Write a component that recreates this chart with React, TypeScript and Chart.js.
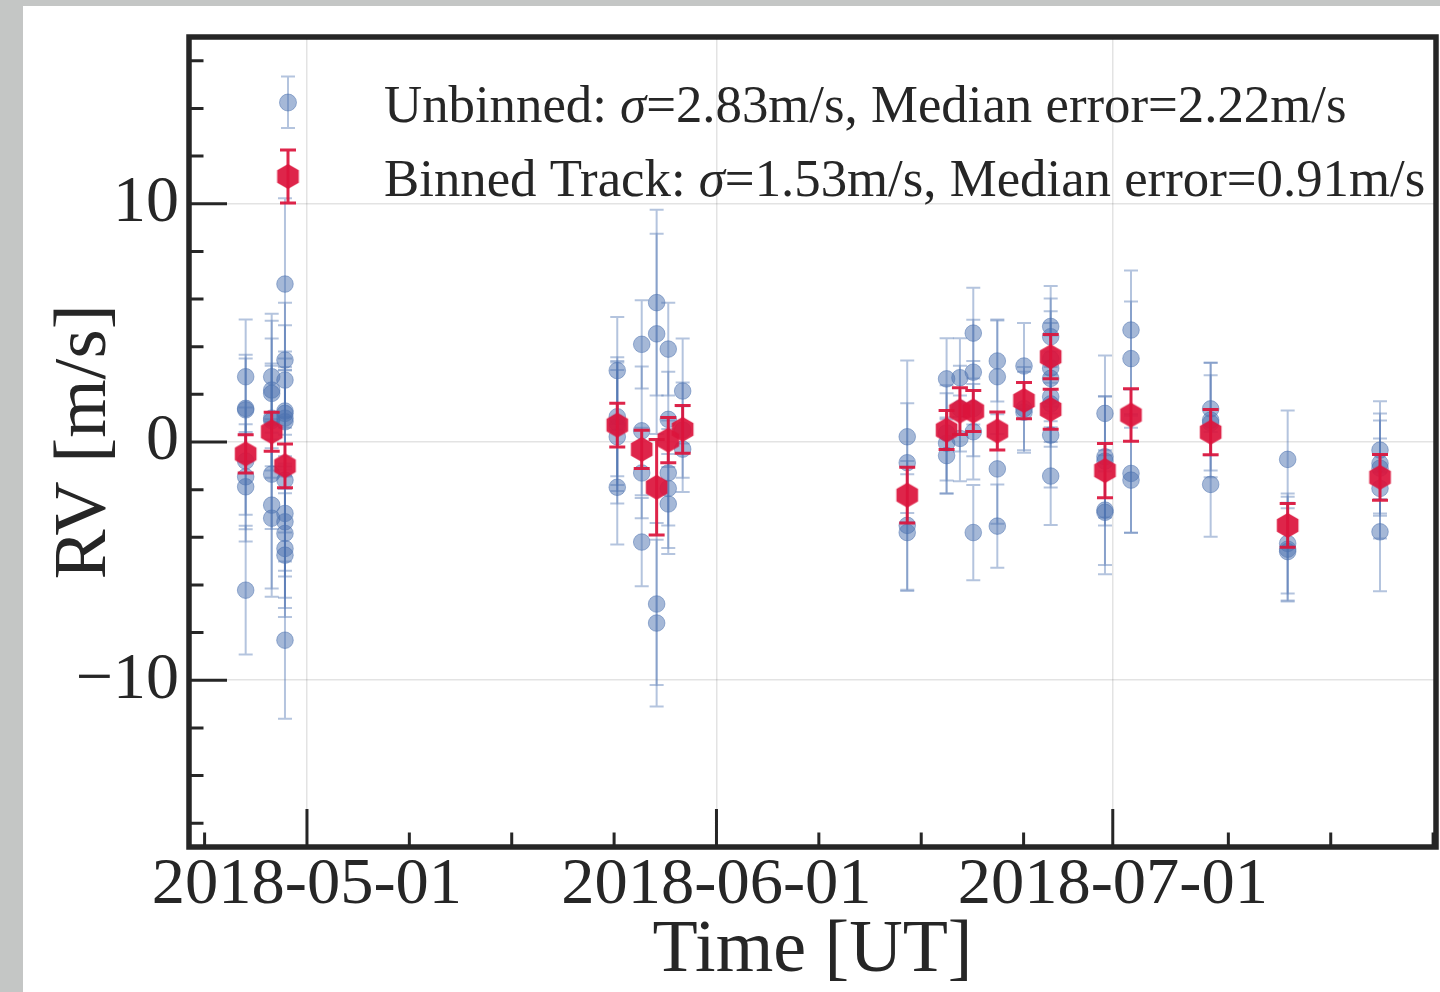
import React, { useEffect, useRef } from "react";
import { Chart, registerables } from "chart.js";

Chart.register(...registerables);

const DAY_MS = 86400000;
const toDay = (s: string): number => Date.parse(s + ":00Z") / DAY_MS;

// ---- axes ----
const xRange = ["2018-04-22T01:40", "2018-07-25T11:15"];
const xMajorTicks = ["2018-05-01T00:00", "2018-06-01T00:00", "2018-07-01T00:00"];
const xMinorTicks = [
  "2018-04-23T06:00", "2018-05-08T18:00", "2018-05-16T12:00", "2018-05-24T06:00",
  "2018-06-08T18:00", "2018-06-16T12:00", "2018-06-24T06:00",
  "2018-07-09T18:00", "2018-07-17T12:00", "2018-07-25T06:00",
];
const yRange = [-17, 17];
const yMajorTicks = [-10, 0, 10];
const yMinorTicks = [-16, -14, -12, -8, -6, -4, -2, 2, 4, 6, 8, 12, 14, 16];

const xTitle = "Time [UT]";
const yTitle = "RV [m/s]";
const legendLabels = [
  "Unbinned: σ=2.83m/s, Median error=2.22m/s",
  "Binned Track: σ=1.53m/s, Median error=0.91m/s",
];

// ---- unbinned RVs, grouped by night ----
const nightDates = [
  "2018-04-26T08:38", "2018-04-28T07:55", "2018-04-29T08:02",
  "2018-05-24T11:45", "2018-05-26T08:10", "2018-05-27T11:17", "2018-05-28T08:24", "2018-05-29T10:34",
  "2018-06-15T10:34", "2018-06-18T10:05", "2018-06-19T10:19", "2018-06-20T10:34",
  "2018-06-22T06:14", "2018-06-24T06:43", "2018-06-26T07:12", "2018-06-30T09:50",
  "2018-07-02T09:07", "2018-07-08T09:50", "2018-07-14T05:46", "2018-07-21T05:31",
];
const unbinnedRV = [
  [2.74, 1.41, 1.35, -0.8, -1.46, -1.88, -6.22],
  [2.74, 2.18, 2.04, 1.0, 0.9, -1.35, -2.65, -3.2],
  [6.63, 3.44, 2.6, 1.3, 1.2, 1.0, 0.85, -1.6, -3.0, -3.35, -3.84, -4.47, -4.75, -8.32],
  [3.0, 1.06, 0.8, 0.64, 0.22, -1.9],
  [4.1, 0.47, -1.3, -4.2],
  [5.85, 4.54, -6.8, -7.6],
  [3.9, 0.95, -1.3, -1.95, -2.6],
  [2.14, 0.5, -0.3],
  [0.22, -0.87, -3.5, -3.8],
  [2.65, 0.38, -0.05, -0.57],
  [2.7, 1.4, 0.15],
  [4.57, 2.93, 1.4, 0.43, -3.8],
  [3.4, 2.74, -1.13, -3.53],
  [3.19, 1.4, 1.25],
  [4.85, 4.42, 3.49, 3.1, 2.67, 1.9, 1.6, 0.29, -1.43],
  [1.2, -0.62, -0.8, -2.86, -2.95],
  [4.7, 3.5, -1.32, -1.6],
  [1.39, 0.92, 0.8, -1.78],
  [-0.73, -4.26, -4.5, -4.6],
  [-0.34, -0.9, -1.1, -1.95, -3.77],
];
const unbinnedErr = [
  [2.4, 2.25, 2.15, 2.25, 2.2, 2.3, 2.7],
  [2.35, 3.2, 2.3, 2.2, 2.4, 2.3, 3.5, 3.3],
  [3.6, 2.4, 2.3, 2.2, 2.6, 2.0, 2.3, 2.2, 2.4, 2.3, 2.7, 2.5, 2.6, 3.3],
  [2.25, 2.5, 2.6, 2.7, 2.8, 2.4],
  [1.85, 2.7, 1.9, 1.85],
  [3.9, 4.2, 3.4, 3.5],
  [1.95, 2.0, 2.2, 2.5, 2.1],
  [2.2, 2.0, 1.8],
  [3.2, 2.5, 2.7, 2.45],
  [1.7, 2.0, 2.1, 1.6],
  [1.65, 1.8, 1.8],
  [1.9, 2.2, 2.0, 2.0, 2.0],
  [1.7, 2.4, 2.3, 1.75],
  [1.8, 1.75, 1.7],
  [1.7, 1.6, 2.0, 1.9, 1.8, 1.9, 1.8, 2.2, 2.05],
  [2.43, 2.55, 2.7, 2.3, 2.6],
  [2.5, 2.4, 2.5, 2.2],
  [1.95, 2.4, 2.0, 2.2],
  [2.05, 2.1, 2.2, 2.05],
  [2.05, 2.1, 2.0, 2.1, 2.5],
];

// ---- binned track RVs ----
const binnedDates = [
  "2018-04-26T08:38", "2018-04-28T07:55", "2018-04-29T08:02",
  "2018-05-24T11:45", "2018-05-26T08:10", "2018-05-27T11:17", "2018-05-28T08:24", "2018-05-29T10:34",
  "2018-06-15T10:34", "2018-06-18T10:05", "2018-06-19T10:19", "2018-06-20T10:34",
  "2018-06-22T06:14", "2018-06-24T06:43", "2018-06-26T07:12", "2018-06-26T07:12",
  "2018-06-30T09:50", "2018-07-02T09:07", "2018-07-08T09:50", "2018-07-14T05:46", "2018-07-21T05:31",
];
const binnedRV = [
  -0.5, 0.43, -1.0,
  0.71, -0.31, -1.9, 0.08, 0.53,
  -2.23, 0.5, 1.3, 1.3,
  0.46, 1.74, 3.58, 1.37,
  -1.2, 1.13, 0.41, -3.5, -1.48,
];
const binnedErr = [
  0.8, 0.82, 0.92,
  0.92, 0.8, 2.0, 0.95, 1.0,
  1.17, 0.82, 0.98, 0.86,
  0.8, 0.76, 0.93, 0.84,
  1.14, 1.1, 0.95, 0.92, 0.96,
];

// ---- styles ----
const INK = "#262626";
const SERIF = "'Liberation Serif', 'Times New Roman', serif";
const BLUE = "rgba(76,114,176,0.5)";
const BLUE_BAR = "rgba(76,114,176,0.42)";
const RED = "rgba(220,20,60,0.93)";

function makeHexagon(r: number, color: string): HTMLCanvasElement {
  const size = Math.ceil(r * 2) + 4;
  const c = document.createElement("canvas");
  c.width = size;
  c.height = size;
  const g = c.getContext("2d")!;
  g.fillStyle = color;
  g.beginPath();
  for (let k = 0; k < 6; k++) {
    const a = -Math.PI / 2 + (k * Math.PI) / 3;
    const px = size / 2 + r * Math.cos(a);
    const py = size / 2 + r * Math.sin(a);
    if (k === 0) g.moveTo(px, py);
    else g.lineTo(px, py);
  }
  g.closePath();
  g.fill();
  return c;
}

function drawErrorBar(ctx: CanvasRenderingContext2D, x: number, yTop: number, yBot: number, cap: number) {
  ctx.beginPath();
  ctx.moveTo(x, yTop);
  ctx.lineTo(x, yBot);
  ctx.moveTo(x - cap, yTop);
  ctx.lineTo(x + cap, yTop);
  ctx.moveTo(x - cap, yBot);
  ctx.lineTo(x + cap, yBot);
  ctx.stroke();
}

const errorBarPlugin = {
  id: "errorBars",
  beforeDatasetDraw(chart: any, args: any) {
    const ds = chart.data.datasets[args.index];
    const st = ds.errStyle;
    if (!st) return;
    const ctx: CanvasRenderingContext2D = chart.ctx;
    const ys = chart.scales.y;
    ctx.save();
    ctx.strokeStyle = st.color;
    ctx.lineWidth = st.width;
    args.meta.data.forEach((pt: any, j: number) => {
      const d = ds.data[j];
      drawErrorBar(ctx, pt.x, ys.getPixelForValue(d.y + d.err), ys.getPixelForValue(d.y - d.err), st.cap);
    });
    ctx.restore();
  },
};

const frameTicksPlugin = {
  id: "frameTicks",
  afterDatasetsDraw(chart: any) {
    const { ctx, chartArea: a, scales } = chart;
    ctx.save();
    ctx.strokeStyle = INK;
    ctx.lineWidth = 3;
    ctx.beginPath();
    yMajorTicks.forEach((v) => {
      const p = scales.y.getPixelForValue(v);
      ctx.moveTo(a.left, p);
      ctx.lineTo(a.left + 38, p);
    });
    yMinorTicks.forEach((v) => {
      const p = scales.y.getPixelForValue(v);
      ctx.moveTo(a.left, p);
      ctx.lineTo(a.left + 14.5, p);
    });
    xMajorTicks.forEach((d) => {
      const p = scales.x.getPixelForValue(toDay(d));
      ctx.moveTo(p, a.bottom);
      ctx.lineTo(p, a.bottom - 38);
    });
    xMinorTicks.forEach((d) => {
      const p = scales.x.getPixelForValue(toDay(d));
      ctx.moveTo(p, a.bottom);
      ctx.lineTo(p, a.bottom - 14.5);
    });
    ctx.stroke();
    ctx.lineWidth = 5.5;
    ctx.strokeRect(a.left, a.top, a.right - a.left, a.bottom - a.top);
    ctx.restore();
  },
};

function makeLegendPlugin(hex: HTMLCanvasElement) {
  return {
    id: "innerLegend",
    afterDraw(chart: any) {
      const ctx: CanvasRenderingContext2D = chart.ctx;
      const a = chart.chartArea;
      const hx = a.left + 99;
      const textX = a.left + 195;
      const rows = [a.top + 85, a.top + 159];
      ctx.save();
      // unbinned handle
      ctx.strokeStyle = BLUE_BAR;
      ctx.lineWidth = 2;
      drawErrorBar(ctx, hx, rows[0] - 45.5, rows[0] + 6, 7);
      ctx.fillStyle = BLUE;
      ctx.strokeStyle = BLUE;
      ctx.lineWidth = 1;
      ctx.beginPath();
      ctx.arc(hx, rows[0] - 19.5, 8.5, 0, Math.PI * 2);
      ctx.fill();
      ctx.stroke();
      // binned handle
      ctx.strokeStyle = RED;
      ctx.lineWidth = 3;
      drawErrorBar(ctx, hx, rows[1] - 46, rows[1] + 7, 8);
      ctx.drawImage(hex, hx - hex.width / 2, rows[1] - 19.5 - hex.height / 2);
      // texts
      ctx.fillStyle = INK;
      ctx.textBaseline = "alphabetic";
      ctx.textAlign = "left";
      legendLabels.forEach((label, i) => {
        let x = textX;
        const parts = label.split("σ");
        parts.forEach((part, k) => {
          if (k > 0) {
            ctx.font = `italic 52.8px ${SERIF}`;
            ctx.fillText("σ", x, rows[i]);
            x += ctx.measureText("σ").width;
          }
          ctx.font = `52.8px ${SERIF}`;
          ctx.fillText(part, x, rows[i]);
          x += ctx.measureText(part).width;
        });
      });
      ctx.restore();
    },
  };
}

export default function App() {
  const ref = useRef<HTMLCanvasElement>(null);

  useEffect(() => {
    const hex = makeHexagon(12.5, RED);
    const unbinnedPoints = nightDates.flatMap((d, i) =>
      unbinnedRV[i].map((v, j) => ({ x: toDay(d), y: v, err: unbinnedErr[i][j] }))
    );
    const binnedPoints = binnedDates.map((d, i) => ({ x: toDay(d), y: binnedRV[i], err: binnedErr[i] }));

    const chart = new Chart(ref.current!, {
      type: "scatter",
      data: {
        datasets: [
          {
            label: "Unbinned",
            data: unbinnedPoints,
            order: 2,
            pointStyle: "circle",
            pointRadius: 8.3,
            pointBackgroundColor: BLUE,
            pointBorderColor: BLUE,
            pointBorderWidth: 1,
            errStyle: { color: BLUE_BAR, width: 2, cap: 7 },
          } as any,
          {
            label: "Binned Track",
            data: binnedPoints,
            order: 1,
            pointStyle: hex,
            pointRadius: 12,
            pointBorderWidth: 0,
            errStyle: { color: RED, width: 3, cap: 8 },
          } as any,
        ],
      },
      options: {
        responsive: false,
        animation: false,
        devicePixelRatio: 1,
        layout: { autoPadding: false, padding: { top: 37, right: 4, left: 0, bottom: 0 } },
        plugins: { legend: { display: false }, tooltip: { enabled: false } },
        scales: {
          x: {
            type: "linear",
            position: "bottom",
            min: toDay(xRange[0]),
            max: toDay(xRange[1]),
            afterBuildTicks: (scale: any) => {
              scale.ticks = xMajorTicks.map((d) => ({ value: toDay(d) }));
            },
            afterFit: (scale: any) => {
              scale.height = 145;
              scale.paddingLeft = 0;
              scale.paddingRight = 0;
              scale.paddingTop = 0;
              scale.paddingBottom = 0;
            },
            grid: { color: "rgba(0,0,0,0.11)", lineWidth: 1.5, drawTicks: false },
            border: { display: false },
            ticks: {
              color: INK,
              font: { family: SERIF, size: 66.5, lineHeight: 1 },
              padding: 5,
              maxRotation: 0,
              minRotation: 0,
              autoSkip: false,
              callback: (v: any) => new Date(Number(v) * DAY_MS).toISOString().slice(0, 10),
            },
            title: {
              display: true,
              text: xTitle,
              color: INK,
              font: { family: SERIF, size: 74, lineHeight: 1.1 },
              padding: { top: 0, bottom: 0 },
            },
          },
          y: {
            type: "linear",
            position: "left",
            min: yRange[0],
            max: yRange[1],
            afterBuildTicks: (scale: any) => {
              scale.ticks = yMajorTicks.map((v) => ({ value: v }));
            },
            afterFit: (scale: any) => {
              scale.width = 189;
              scale.paddingLeft = 0;
              scale.paddingRight = 0;
              scale.paddingTop = 0;
              scale.paddingBottom = 0;
            },
            grid: { color: "rgba(0,0,0,0.11)", lineWidth: 1.5, drawTicks: false },
            border: { display: false },
            ticks: {
              color: INK,
              font: { family: SERIF, size: 66, lineHeight: 1 },
              padding: 10,
              callback: (v: any) => (Number(v) < 0 ? "\u2212" + Math.abs(Number(v)) : String(v)),
            },
            title: {
              display: true,
              text: yTitle,
              color: INK,
              font: { family: SERIF, size: 75, lineHeight: 1.2 },
              padding: { top: 40, bottom: 0 },
            },
          },
        },
      },
      plugins: [errorBarPlugin, frameTicksPlugin, makeLegendPlugin(hex)],
    } as any);
    return () => chart.destroy();
  }, []);

  return (
    <div style={{ position: "fixed", left: 0, top: 0, width: 1440, height: 992, background: "#c4c6c5", overflow: "hidden" }}>
      <div style={{ position: "absolute", left: 23, top: 6, right: 0, bottom: 0, background: "#ffffff" }} />
      <canvas
        ref={ref}
        width={1440}
        height={992}
        style={{ position: "absolute", left: 0, top: 0, width: 1440, height: 992 }}
      />
    </div>
  );
}
